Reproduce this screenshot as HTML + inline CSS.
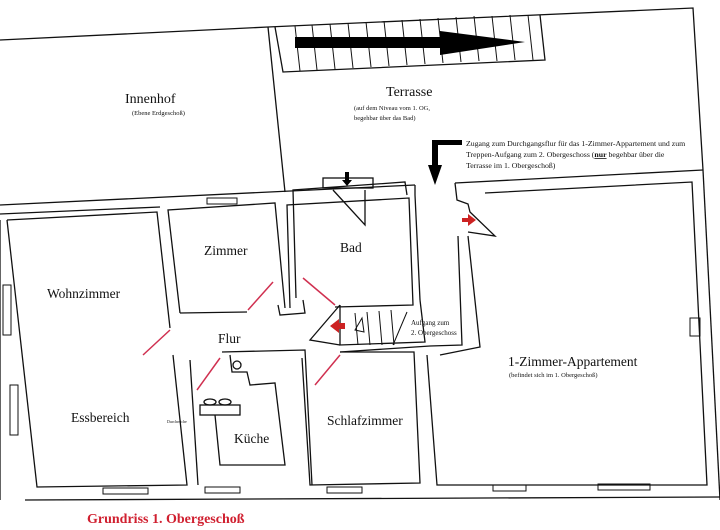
<!DOCTYPE html>
<html><head><meta charset="utf-8"><style>
body{margin:0;background:#fff;width:720px;height:530px;overflow:hidden}
svg{display:block}
text{font-family:"Liberation Serif",serif;fill:#111}
</style></head><body>
<svg width="720" height="530" viewBox="0 0 720 530" xmlns="http://www.w3.org/2000/svg">
<g stroke="#111" stroke-width="1.3" fill="none">
<polyline points="0,40 268,27 693,8 703,170"/>
<line x1="268" y1="27" x2="285" y2="192"/>
<polyline points="275,27 283,72 545,60 540,15"/>
<g stroke-width="1">
<line x1="295" y1="26" x2="300" y2="71"/><line x1="312" y1="25" x2="317" y2="70"/><line x1="330" y1="24" x2="335" y2="69"/><line x1="348" y1="23" x2="353" y2="68"/><line x1="366" y1="22" x2="371" y2="67"/><line x1="384" y1="21" x2="389" y2="66"/><line x1="402" y1="20" x2="407" y2="65"/><line x1="420" y1="19" x2="425" y2="64"/><line x1="438" y1="18" x2="443" y2="63"/><line x1="456" y1="17" x2="461" y2="62"/><line x1="474" y1="16" x2="479" y2="61"/><line x1="492" y1="16" x2="497" y2="61"/><line x1="510" y1="15" x2="515" y2="60"/><line x1="528" y1="15" x2="533" y2="60"/>
</g>
<polyline points="0,205 415,185"/>
<polyline points="0,214 160,207"/>
<polyline points="455,183 703,170"/>
<polyline points="485,193 692,182 707,485 437,485 427,355"/>
<polyline points="703,170 720,500"/>
<line x1="25" y1="500" x2="720" y2="497"/>
<polyline points="0,220 0,500"/>
<polyline points="7,220 37,487 187,485 173,355"/>
<polyline points="7,220 157,212 170,328"/>
<polyline points="180,313 168,210 275,203 285,308"/>
<polyline points="180,313 247,312"/>
<polyline points="278,305 280,315 305,313 303,300"/>
<polyline points="290,308 287,205 409,198 413,305 335,307"/>
<polyline points="296,298 293,190 405,182 407,195"/>
<polyline points="340,305 340,345 425,342 420,300"/>
<polyline points="340,305 310,340 340,345"/>
<g stroke-width="1"><line x1="355" y1="313" x2="358" y2="345"/><line x1="367" y1="312" x2="370" y2="345"/><line x1="379" y1="311" x2="382" y2="345"/><line x1="391" y1="310" x2="394" y2="345"/><line x1="393" y1="345" x2="407" y2="312"/></g>
<polygon points="362,318 355,330 364,332" stroke-width="1"/>
<polyline points="340,352 430,346 462,345 458,236"/>
<polyline points="440,355 480,347 468,236"/>
<polyline points="415,185 415,195 420,300"/>
<polyline points="455,183 457,200 468,204 470,212 495,236 468,232"/>
<polyline points="222,352 305,350 312,485"/>
<polyline points="190,360 198,485"/>
<polyline points="230,355 232,372 247,372 250,385 275,383 285,465 220,465 215,415"/>
<rect x="200" y="405" width="40" height="10"/>
<ellipse cx="210" cy="402" rx="6" ry="3"/><ellipse cx="225" cy="402" rx="6" ry="3"/>
<circle cx="237" cy="365" r="4"/>
<polyline points="302,358 310,485 420,483 414,352 340,352"/>
<g stroke-width="1"><rect x="207" y="198" width="30" height="6"/><rect x="103" y="488" width="45" height="6"/><rect x="205" y="487" width="35" height="6"/><rect x="327" y="487" width="35" height="6"/><rect x="493" y="485" width="33" height="6"/><rect x="598" y="484" width="52" height="6"/><rect x="3" y="285" width="8" height="50"/><rect x="10" y="385" width="8" height="50"/><rect x="690" y="318" width="10" height="18"/></g>
<rect x="323" y="178" width="50" height="10"/>
<polyline points="333,190 365,225 365,190"/>
</g>
<polygon points="295,37 440,37 440,31 525,42 440,55 440,48 295,48" fill="#000"/>
<polygon points="432,140 462,140 462,145 438,145 438,165 442,165 435,185 428,165 432,165" fill="#000"/>
<polygon points="345,172 349,172 349,180 352,180 347,186 342,180 345,180" fill="#000"/>
<polygon points="462,218 468,218 468,214 476,220 468,226 468,222 462,222" fill="#c22"/>
<polygon points="345,323 339,323 339,319 330,326 339,333 339,329 345,329" fill="#c22"/>
<g stroke="#d03050" stroke-width="1.5" fill="none">
<line x1="170" y1="330" x2="143" y2="355"/><line x1="248" y1="310" x2="273" y2="282"/><line x1="303" y1="278" x2="335" y2="305"/><line x1="220" y1="358" x2="197" y2="390"/><line x1="340" y1="355" x2="315" y2="385"/>
</g>
<text x="125" y="103" font-size="14">Innenhof</text>
<text x="132" y="115" font-size="6.5">(Ebene Erdgeschoß)</text>
<text x="386" y="96" font-size="14">Terrasse</text>
<text x="354" y="110" font-size="6.5">(auf dem Niveau vom 1. OG,</text>
<text x="354" y="120" font-size="6.5">begehbar über das Bad)</text>
<text x="466" y="146" font-size="7.8">Zugang zum Durchgangsflur für das 1-Zimmer-Appartement und zum</text>
<text x="466" y="157" font-size="7.8">Treppen-Aufgang zum 2. Obergeschoss (<tspan font-weight="bold" text-decoration="underline">nur</tspan> begehbar über die</text>
<text x="466" y="168" font-size="7.8">Terrasse im 1. Obergeschoß)</text>
<text x="204" y="255" font-size="13.5">Zimmer</text>
<text x="340" y="252" font-size="13.5">Bad</text>
<text x="47" y="298" font-size="13.5">Wohnzimmer</text>
<text x="218" y="343" font-size="13.5">Flur</text>
<text x="71" y="422" font-size="13.5">Essbereich</text>
<text x="234" y="443" font-size="13.5">Küche</text>
<text x="327" y="425" font-size="13.5">Schlafzimmer</text>
<text x="167" y="423" font-size="4">Durchreiche</text>
<text x="411" y="325" font-size="7">Aufgang zum</text>
<text x="411" y="335" font-size="7">2. Obergeschoss</text>
<text x="508" y="366" font-size="13.5">1-Zimmer-Appartement</text>
<text x="509" y="377" font-size="6.5">(befindet sich im 1. Obergeschoß)</text>
<text x="87" y="523" font-size="14" font-weight="bold" style="fill:#d02030">Grundriss 1. Obergeschoß</text>
</svg>
</body></html>
